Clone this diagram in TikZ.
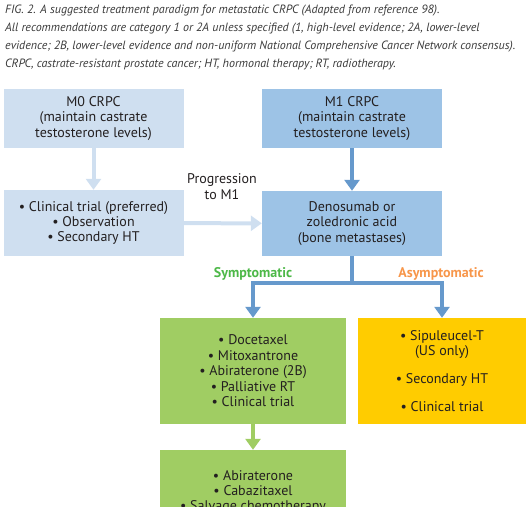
\documentclass[tikz,border=0pt]{standalone}
\usepackage{fontspec}
\setmainfont{PT Sans}
\usetikzlibrary{arrows.meta}
\definecolor{mzero}{HTML}{CFDFF0}
\definecolor{mone}{HTML}{9DC3E6}
\definecolor{arrdark}{HTML}{6699CC}
\definecolor{grn}{HTML}{A0CD63}
\definecolor{yel}{HTML}{FFCC00}
\definecolor{symg}{HTML}{4DB848}
\definecolor{asyo}{HTML}{F7964A}
\definecolor{txt}{HTML}{231F20}
\definecolor{captxt}{HTML}{3A3A3A}
\begin{document}
\begin{tikzpicture}[x=1pt,y=-1pt,
  box/.style={inner sep=0pt, align=center, text=txt,
    font=\fontsize{14}{15.3}\selectfont},
  lightarrow/.style={draw=mzero, line width=4pt, -{Triangle[width=15pt,length=11pt]}},
  darkarrow/.style={draw=arrdark, line width=4pt, -{Triangle[width=15pt,length=11pt]}},
  greenarrow/.style={draw=grn, line width=4pt, -{Triangle[width=15pt,length=11pt]}},
  branchlabel/.style={font=\fontsize{14}{15}\selectfont\bfseries}]
\useasboundingbox (0,0) rectangle (530,506);
\clip (0,0) rectangle (530,506);
% caption
\node[anchor=north west, inner sep=0pt, align=left, text=captxt,
  font=\fontsize{12}{18.2}\selectfont\itshape] (cap) at (5,4.5)
  {FIG. 2. A suggested treatment paradigm for metastatic CRPC (Adapted from reference 98).\\
   All recommendations are category 1 or 2A unless specified (1, high-level evidence; 2A, lower-level\\
   evidence; 2B, lower-level evidence and non-uniform National Comprehensive Cancer Network consensus).\\
   CRPC, castrate-resistant prostate cancer; HT, hormonal therapy; RT, radiotherapy.};
% boxes
\node[box, fill=mzero, minimum width=180pt, minimum height=59pt] (m0) at (93.5,118.5)
  {M0 CRPC\\(maintain castrate\\testosterone levels)};
\node[box, fill=mzero, minimum width=180pt, minimum height=66pt] (clin) at (93.5,223)
  {• Clinical trial (preferred)\\• Observation\\• Secondary HT};
\node[box, fill=mone, minimum width=180pt, minimum height=59pt] (m1) at (352,118.5)
  {M1 CRPC\\(maintain castrate\\testosterone levels)};
\node[box, fill=mone, minimum width=180pt, minimum height=65pt] (deno) at (352,223.5)
  {Denosumab or\\zoledronic acid\\(bone metastases)};
\node[box, fill=grn, minimum width=186pt, minimum height=106pt,
  font=\fontsize{14}{15.5}\selectfont] (g1) at (253,371)
  {• Docetaxel\\• Mitoxantrone\\• Abiraterone (2B)\\• Palliative RT\\• Clinical trial};
\node[box, fill=yel, minimum width=168pt, minimum height=106pt] (y1) at (442,371)
  {• Sipuleucel-T\\(US only)\\[12pt]• Secondary HT\\[13pt]• Clinical trial};
\node[box, fill=grn, minimum width=186pt, minimum height=84pt,
  font=\fontsize{14}{15.3}\selectfont] (g2) at (253,492)
  {• Abiraterone\\• Cabazitaxel\\• Salvage chemotherapy};
% labels
\node[box, font=\fontsize{14}{16}\selectfont] (prog) at (222,187) {Progression\\to M1};
\node[branchlabel, text=symg] (sym) at (253,274) {Symptomatic};
\node[branchlabel, text=asyo] (asym) at (441,274) {Asymptomatic};
% connectors
\draw[lightarrow] (m0) -- (clin);
\draw[lightarrow] (clin) -- (deno);
\draw[darkarrow] (m1) -- (deno);
\coordinate (br) at (352,283);
\draw[draw=arrdark, line width=4pt] (deno.south) -- (br);
\draw[darkarrow] (br) -| (g1.north);
\draw[darkarrow] (br) -| (y1.north);
\draw[greenarrow] (g1) -- (g2);
\end{tikzpicture}
\end{document}
